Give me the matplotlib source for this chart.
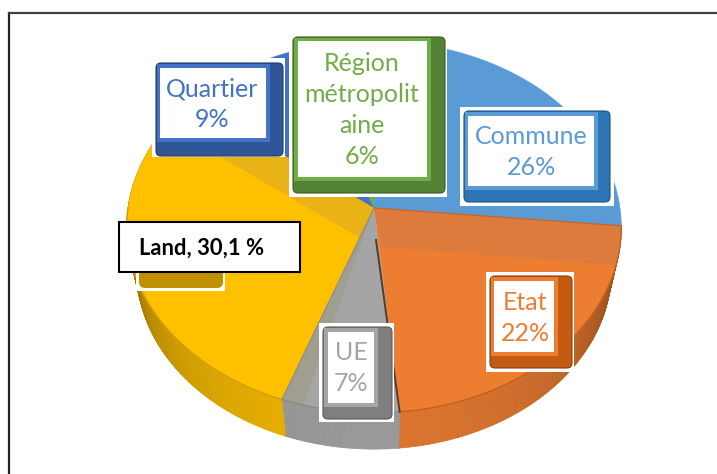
import numpy as np
import matplotlib
matplotlib.use("Agg")
import matplotlib.pyplot as plt
from matplotlib.patches import Polygon, Rectangle, FancyBboxPatch

categories = ["Etat", "UE", "Land", "Quartier", "Région métropolitaine", "Commune"]
shares = [22, 7, 30.1, 9, 6, 26]
slice_colors = ["#ED7D31", "#A5A5A5", "#FFC000", "#4472C4", "#70AD47", "#5B9BD5"]

# text of the callouts
label_texts = ["Etat\n22%", "UE\n7%", "Quartier\n9%", "Région\nmétropolit\naine\n6%", "Commune\n26%"]

plt.rcParams["font.family"] = ["Lato", "DejaVu Sans"]

W, H = 717, 474
fig = plt.figure(figsize=(W / 100, H / 100), dpi=100)
ax = fig.add_axes([0, 0, 1, 1])
ax.set_xlim(0, W)
ax.set_ylim(H, 0)
ax.axis("off")

# tilted pie: unit circle seen in perspective
K = 0.102
START = -5.5


def rim(t, lower=False):
    t = np.radians(t)
    x, y = np.cos(t), np.sin(t)
    w = 1 + K * y
    if lower:
        return 374 + 236 * x / w, 252 - 177 * y / w
    return 374 + 246 * x / w, 208 - 184 * y / w


def shade(color, f):
    c = np.array(matplotlib.colors.to_rgb(color))
    return tuple(np.clip(c * f, 0, 1))


total = sum(shares)
angles = [START]
for s in shares:
    angles.append(angles[-1] - 360 * s / total)

# side wall first, top surface goes over it
for i in range(3):
    ts = np.arange(angles[i], angles[i + 1] - 0.5, -0.5)
    for a, b in zip(ts[:-1], ts[1:]):
        f = 0.45 + 0.47 * abs(np.sin(np.radians(a))) ** 0.7
        pts = [rim(a), rim(b), rim(b, True), rim(a, True)]
        ax.add_patch(Polygon(pts, closed=True, fc=shade(slice_colors[i], f),
                             ec=shade(slice_colors[i], f), lw=0.5, zorder=2))

for i in range(6):
    ts = np.linspace(angles[i], angles[i + 1], 120)
    x, y = rim(ts)
    pts = [(374, 208)] + list(zip(x, y))
    ax.add_patch(Polygon(pts, closed=True, fc=slice_colors[i], ec=slice_colors[i], lw=0.4, zorder=3))

# bevel bands on the top surface
ts = np.linspace(angles[0], -17.5, 30)
x, y = rim(ts)
ax.add_patch(Polygon([(374, 208)] + list(zip(x, y)) + [(382, 247)], closed=True,
                     fc="#DC7B3C", ec="none", zorder=4))
ts = np.linspace(angles[3], -208, 30)
x, y = rim(ts)
ax.add_patch(Polygon([(374, 208)] + list(zip(x, y)) + [(360, 238)], closed=True,
                     fc="#E9B216", ec="none", zorder=4))
ts = np.linspace(angles[2], -105, 10)
x, y = rim(ts)
ax.add_patch(Polygon([(374, 208)] + list(zip(x, y)), closed=True,
                     fc="#A09E90", ec="none", zorder=4))

# slice edges
x, y = rim(np.linspace(angles[0], angles[1], 120))
ax.plot(x, y, color="#C55F1E", lw=1, zorder=5)
x, y = rim(np.linspace(angles[1], angles[2], 40))
ax.plot(x, y, color="#8A8A8A", lw=1, zorder=5)
x, y = rim(np.linspace(angles[2], -180, 80))
ax.plot(x, y, color="#D39E00", lw=1, zorder=5)
x, y = rim(angles[1])
ax.plot([376, x], [240, y], color="#5A3A20", lw=1.4, zorder=5)
x, y = rim(angles[0])
ax.plot([374, x], [208, y], color="#C8662A", lw=1, zorder=5)
x, y = rim(angles[2])
ax.plot([374, x], [208, y], color="#8F8D80", lw=0.8, zorder=5)

# frame, only top and left show
ax.plot([9, 9], [H, 13], color="#222222", lw=1.6, zorder=1)
ax.plot([9, W], [13, 13], color="#404040", lw=1.6, zorder=1)


def callout(back, box, inner, ring, dark, text, tx, ty):
    ax.add_patch(Rectangle((back[0], back[1]), back[2] - back[0], back[3] - back[1], fc="white", ec="none", zorder=6))
    ax.add_patch(FancyBboxPatch((box[0], box[1]), box[2] - box[0], box[3] - box[1],
                                boxstyle="round,pad=0,rounding_size=5", fc=dark, ec=shade(dark, 0.7), lw=0.8, zorder=7))
    ax.add_patch(Rectangle((box[0] + 0.5, box[1] + 0.5), inner[2] + 3 - box[0], inner[3] + 3 - box[1], fc=ring, ec="none", zorder=8))
    ax.add_patch(Rectangle((inner[0], inner[1]), inner[2] - inner[0], inner[3] - inner[1], fc="white", ec="none", zorder=9))
    ax.text(tx, ty, text, color=ring, fontsize=18, ha="center", va="center", linespacing=1.42, zorder=10)


callout((486, 272, 574, 372), (490, 276, 572, 368), (494, 281, 554, 352), "#ED7D31", "#C55A11", label_texts[0], 525, 318)
callout((319, 323, 394, 422), (323, 327, 392, 419), (328, 332, 374, 403), "#A5A5A5", "#7F7F7F", label_texts[1], 351, 368)
callout((152, 58, 285, 157), (156, 63, 283, 156), (160, 68, 266, 138), "#4472C4", "#2F5597", label_texts[2], 212, 104)
callout((289, 36, 447, 197), (293, 37, 445, 193), (298, 41, 427, 177), "#70AD47", "#548235", label_texts[3], 362, 110)
callout((460, 107, 614, 206), (464, 111, 610, 202), (468, 116, 594, 186), "#5B9BD5", "#2E75B6", label_texts[4], 531, 152)

# Land box hides its original label, only the foot of it is left
ax.add_patch(Rectangle((136, 260), 89, 31, fc="white", ec="none", zorder=6))
ax.add_patch(FancyBboxPatch((139, 255), 84, 33, boxstyle="round,pad=0,rounding_size=6", fc="#BF9000", ec="none", zorder=7))
ax.add_patch(Rectangle((119, 222), 181, 50, fc="white", ec="black", lw=1.5, zorder=11))
ax.text(139, 248, "Land, 30,1 %", color="black", fontsize=15.8, fontweight="bold", ha="left", va="center", zorder=12)

fig.savefig("out.png", dpi=100)
